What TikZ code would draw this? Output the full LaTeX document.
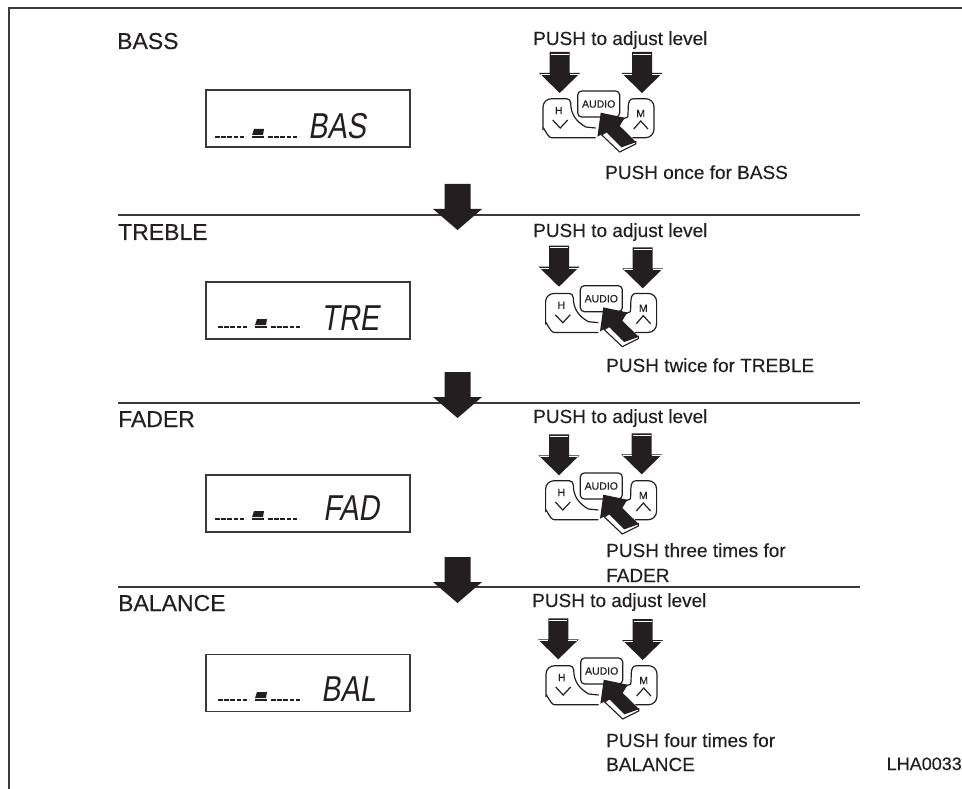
\documentclass[tikz,border=0pt]{standalone}
\usepackage{xcolor}
\usepackage{fontspec}
\setmainfont{Liberation Sans}[FakeBold=0.25]
\newfontfamily\lcdfont{Liberation Sans}[FakeStretch=0.8,FakeSlant=0.16]
\usetikzlibrary{
  positioning,
  calc
}
\definecolor{manInk}{HTML}{231F20}
\definecolor{manRule}{HTML}{3A3A3A}
\tikzset{
  title/.style={anchor=base west, inner sep=0pt, font=\fontsize{23}{26}\selectfont, text=manInk},
  note/.style={anchor=base west, inner sep=0pt, font=\fontsize{19}{22}\selectfont, text=manInk},
  partno/.style={anchor=base east, inner sep=0pt, font=\fontsize{18}{21}\selectfont, text=manInk},
  lcdbox/.style={draw=manRule, line width=1.2pt, minimum width=204pt, minimum height=57pt, inner sep=0pt},
  lcdword/.style={anchor=base west, inner sep=0pt, font=\fontsize{36}{40}\lcdfont, text=manInk},
  keylabel/.style={inner sep=0pt, font=\fontsize{10.5}{12}\selectfont, text=manInk},
  audiokey/.style={draw=manInk, line width=1.2pt, rounded corners=4pt, minimum width=42pt, minimum height=26pt, inner sep=0pt},
  rule/.style={draw=manRule, line width=1.3pt},
  keyline/.style={draw=manInk, line width=1.2pt},
  pics/lcdbar/.style={code={
    \draw[manInk, line width=1.8pt, dash pattern=on 4.6pt off 1.6pt] (0,0) -- (31,0);
    \draw[manInk, line width=1.8pt, dash pattern=on 4.6pt off 1.6pt] (53,0) -- (84,0);
    \fill[manInk] (37,0.9) -- (49,0.9) -- (49,-0.6) -- (37,-0.6) -- cycle;
    \fill[manInk] (37,-2) -- (39,-8) -- (49,-8) -- (48,-2) -- cycle;
  }},
  pics/bigdown/.style={code={
    \fill[manInk] (-13,0) -- (13,0) -- (13,25) -- (24.5,25) -- (0,46) -- (-24.5,25) -- (-13,25) -- cycle;
  }},
  pics/pushdown/.style={code={
    \fill[manInk] (-10,0) -- (10,0) -- (10,21) -- (20.5,21) -- (0,41) -- (-20.5,21) -- (-10,21) -- cycle;
    \draw[white, line width=0.9pt] (-9,2) -- (9,2);
    \draw[white, line width=0.7pt] (-19,22.5) -- (-10,22.5) (10,22.5) -- (19,22.5);
  }},
  pics/audiokeys/.style={code={
    \draw[keyline] (-3,33.7) -- (-47,33.7) to[out=180, in=90] (-55.7,25) -- (-55.7,3) to[out=90, in=180] (-47,-5.3) -- (-32,-5.3)
      to[out=0, in=90] (-28,-1) to[out=-90, in=150] (-13,23) -- (-3,24);
    \draw[keyline] (33.7,33.7) -- (47,33.7) to[out=0, in=-90] (55.3,25) -- (55.3,3) to[out=90, in=0] (47,-5.3) -- (35,-5.3)
      to[out=180, in=80] (29,13) -- (22,16);
    \draw[keyline] (-46,16) -- (-38.5,24) -- (-31,16);
    \draw[keyline] (35,25) -- (42,17) -- (49.3,25);
    \node[audiokey] (-aud) at (0,0) {};
    \node[keylabel] (-audtxt) at (0,0) {AUDIO};
    \node[keylabel] (-htxt) at (-40,6.5) {H};
    \node[keylabel] (-mtxt) at (42,9.5) {M};
    \filldraw[fill=white, draw=manInk, line width=1.1pt] (8,27.7) -- (3,31) -- (21,48) -- (37,40) -- (37,37.7) -- (23,42.7) -- cycle;
    \fill[manInk] (2,8.7) -- (26,13.7) -- (21,22) -- (37,37.7) -- (23,42.7) -- (8,27.7) -- (-1.3,32.7) -- cycle;
  }}
}
\begin{document}
\begin{tikzpicture}[x=1pt, y=-1pt]
  \useasboundingbox (0,0) rectangle (962,789);
  \draw[rule] (9,789) -- (9,8) -- (962,8);
  \draw[rule] (118,215) -- (860,215);
  \draw[rule] (118,403) -- (860,403);
  \draw[rule] (118,587) -- (860,587);

  \node[title] (tbass) at (117,49) {BASS};
  \node[title] (ttreble) at (118,240) {TREBLE};
  \node[title] (tfader) at (118,427) {FADER};
  \node[title] (tbalance) at (118,611) {BALANCE};

  \node[lcdbox] (lcd1) at (308,118.5) {};
  \node[lcdbox] (lcd2) at (308,310.5) {};
  \node[lcdbox] (lcd3) at (308,503.5) {};
  \node[lcdbox] (lcd4) at (308,683) {};
  \node[lcdword] (w1) at (308,139) {BAS};
  \node[lcdword] (w2) at (321,330) {TRE};
  \node[lcdword] (w3) at (323,520) {FAD};
  \node[lcdword] (w4) at (321,701) {BAL};
  \pic at (215,137) {lcdbar};
  \pic at (218,327) {lcdbar};
  \pic at (215,519) {lcdbar};
  \pic at (218,700) {lcdbar};

  \pic at (457.5,184) {bigdown};
  \pic at (457.5,372) {bigdown};
  \pic at (457.5,557) {bigdown};

  \node[note] (adj1) at (533,45) {PUSH to adjust level};
  \node[note] (adj2) at (533,237) {PUSH to adjust level};
  \node[note] (adj3) at (533,423) {PUSH to adjust level};
  \node[note] (adj4) at (532,607) {PUSH to adjust level};

  \pic at (559.7,52) {pushdown};
  \pic at (642,52) {pushdown};
  \pic at (559,245.7) {pushdown};
  \pic at (642.7,247.3) {pushdown};
  \pic at (559,434.3) {pushdown};
  \pic at (641.7,433.3) {pushdown};
  \pic at (558.3,618.3) {pushdown};
  \pic at (642.7,619) {pushdown};

  \pic (k1) at (598.7,104) {audiokeys};
  \pic (k2) at (601.3,298.7) {audiokeys};
  \pic (k3) at (601.3,486) {audiokeys};
  \pic (k4) at (601.7,671) {audiokeys};

  \node[note] (once) at (605,179) {PUSH once for BASS};
  \node[note] (twice) at (606,372) {PUSH twice for TREBLE};
  \node[note] (three) at (606,557) {PUSH three times for};
  \node[note] (threeb) at (606,582) {FADER};
  \node[note] (four) at (606,747) {PUSH four times for};
  \node[note] (fourb) at (606,771) {BALANCE};
  \node[partno] (lha) at (962,770) {LHA0033};
\end{tikzpicture}
\end{document}
